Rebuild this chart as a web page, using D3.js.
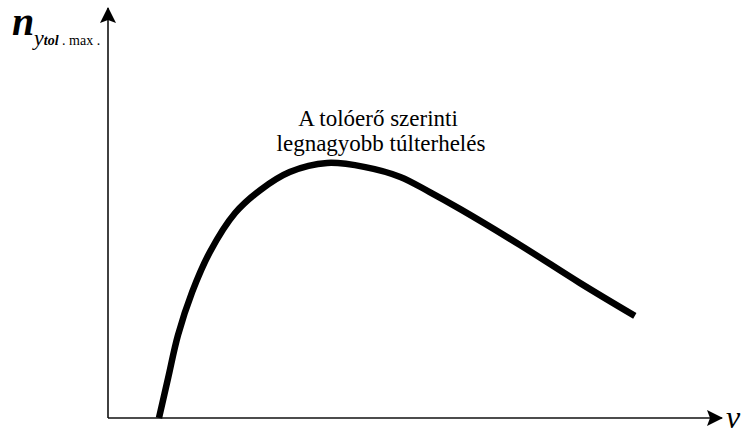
<!DOCTYPE html>
<html>
<head>
<meta charset="utf-8">
<script src="https://cdn.jsdelivr.net/npm/d3@7"></script>
</head>
<body style="margin:0">
<svg id="chart" width="745" height="432" style="font-family: 'Liberation Serif', 'Times New Roman', Tinos;"></svg>
<script>
// Speed (relative units) along the curve
const speed = [8.3, 9.8, 11.4, 13.7, 16.6, 20.7, 24.8, 29.6, 35.7, 41.9, 47.6, 52.4, 57.3, 67.1, 76.9, 85.8];
// Maximum load factor due to thrust (relative units)
const loadFactor = [0, 9.8, 20.2, 30.7, 40.5, 50.0, 55.6, 60.0, 62.2, 61.2, 58.8, 55.1, 51.0, 42.2, 32.9, 24.9];
// Annotation lines
const noteLines = ["A tolóerő szerinti", "legnagyobb túlterhelés"];

const SERIF = '"Liberation Serif", "Times New Roman", Tinos';
const svg = d3.select("#chart");

const x = d3.scaleLinear().domain([0, 100]).range([108, 722]);
const y = d3.scaleLinear().domain([0, 100]).range([418, 8]);

// Arrow head marker
svg.append("defs").append("marker")
  .attr("id", "arrow")
  .attr("viewBox", "0 0 16 16")
  .attr("refX", 15).attr("refY", 8)
  .attr("markerWidth", 16).attr("markerHeight", 16)
  .attr("markerUnits", "userSpaceOnUse")
  .attr("orient", "auto")
  .append("path")
  .attr("d", "M0,0 L16,8 L0,16 L3,8 Z")
  .attr("fill", "#000");

// Axes without ticks
const xAxis = svg.append("g")
  .attr("transform", `translate(0,${y(0)})`)
  .call(d3.axisBottom(x).tickValues([]).tickSizeOuter(0));
xAxis.select(".domain")
  .attr("d", `M${x(0)},0H${x(100)}`)
  .attr("stroke", "#111").attr("stroke-width", 1.6)
  .attr("marker-end", "url(#arrow)");

const yAxis = svg.append("g")
  .attr("transform", `translate(${x(0)},0)`)
  .call(d3.axisLeft(y).tickValues([]).tickSizeOuter(0));
yAxis.select(".domain")
  .attr("d", `M0,${y(0)}V${y(100)}`)
  .attr("stroke", "#111").attr("stroke-width", 1.6)
  .attr("marker-end", "url(#arrow)");

// Curve
const pts = speed.map((v, i) => [v, loadFactor[i]]);
const line = d3.line()
  .x(d => x(d[0]))
  .y(d => y(d[1]))
  .curve(d3.curveCatmullRom.alpha(0.5));

svg.append("path")
  .datum(pts)
  .attr("d", line)
  .attr("fill", "none")
  .attr("stroke", "#000")
  .attr("stroke-width", 6.5)
  .attr("stroke-linejoin", "round");

// Annotation
noteLines.forEach((t, i) => {
  svg.append("text")
    .style("font-family", SERIF)
    .style("font-size", "23px")
    .attr("text-anchor", "middle")
    .attr("x", i === 0 ? 378 : 381)
    .attr("y", 126 + i * 25)
    .text(t);
});

// Y axis label: n with subscript
const yl = svg.append("text").style("font-family", SERIF);
yl.append("tspan").attr("x", 12).attr("y", 35)
  .style("font-family", SERIF)
  .style("font-size", "40px").style("font-style", "italic").style("font-weight", "bold").text("n");
yl.append("tspan").attr("x", 34).attr("y", 45)
  .style("font-family", SERIF)
  .style("font-size", "22px").style("font-style", "italic").text("y");
yl.append("tspan").attr("y", 45)
  .style("font-family", SERIF)
  .style("font-size", "14px").style("font-style", "italic").style("font-weight", "bold").text("tol");
yl.append("tspan").attr("y", 45)
  .style("font-family", SERIF)
  .style("font-size", "14px").text(" . max .");

// X axis label
svg.append("text")
  .style("font-family", SERIF)
  .style("font-size", "32px").style("font-style", "italic")
  .attr("x", 726).attr("y", 428)
  .text("v");
</script>
</body>
</html>
